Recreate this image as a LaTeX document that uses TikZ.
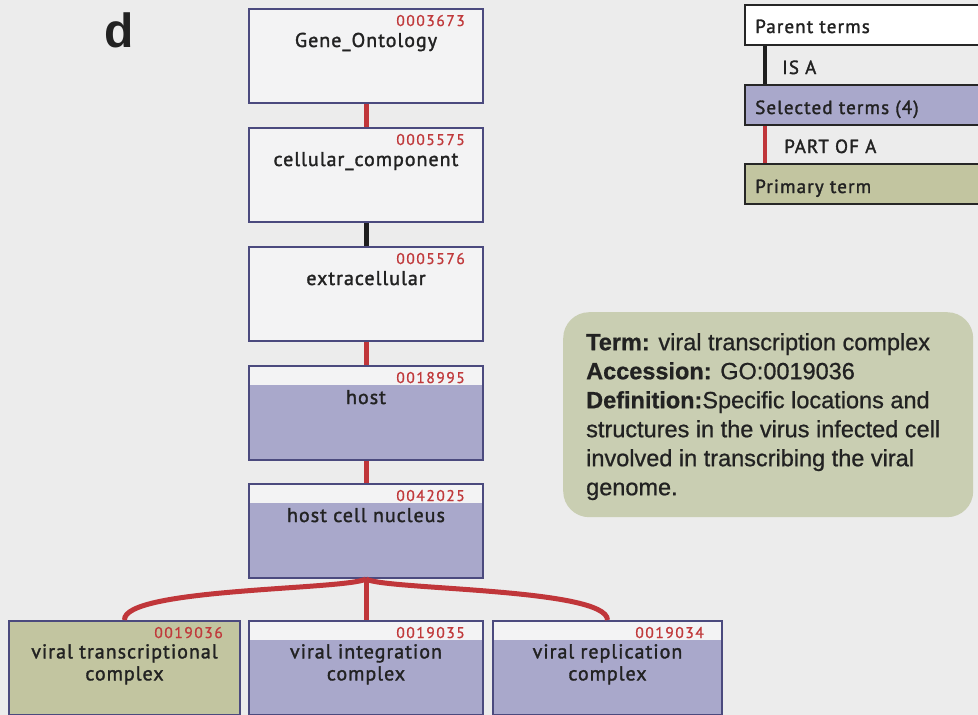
\documentclass[tikz,border=0pt]{standalone}
\usepackage{fontspec}
\setmainfont{Liberation Sans}
\newfontfamily\termfont{PT Sans}[FakeBold=1.6, LetterSpace=5]
\newfontfamily\idfont{PT Sans}[FakeBold=1.0, LetterSpace=10]
\newfontfamily\legfont{PT Sans}[FakeBold=1.6, LetterSpace=6]
\newfontfamily\infofont{Liberation Sans}[FakeBold=0.8]
\newfontfamily\infobold{Liberation Sans}[FakeBold=0.8, UprightFont=*, BoldFont=* Bold]
\begin{document}
\begin{tikzpicture}[x=1pt,y=-1pt,
  edgeline/.style={line width=5pt},
  isa/.style={edgeline, draw=isacol},
  partof/.style={edgeline, draw=partcol},
  termbox/.style={draw=boxline, line width=2pt, fill=plainfill, rectangle,
    minimum width=234pt, minimum height=94pt, anchor=north west, inner sep=0pt},
  selbox/.style={termbox, path picture={\fill[selfill]
    ([yshift=-19pt]path picture bounding box.north west) rectangle (path picture bounding box.south east);}},
  pribox/.style={termbox, fill=prifill},
  idlbl/.style={font=\idfont\fontsize{15.5}{15.5}\selectfont, text=idcol, inner sep=0pt, anchor=base east},
  namelbl/.style={font=\termfont\fontsize{20}{22}\selectfont, text=txtcol, inner sep=0pt, align=center},
  legbox/.style={draw=black!85, line width=2pt, rectangle, anchor=north west,
    minimum width=250pt, minimum height=40pt, inner sep=0pt},
  leglbl/.style={font=\legfont\fontsize{19}{19}\selectfont, text=txtcol, inner sep=0pt, anchor=base west},
]
\definecolor{bgcol}{HTML}{ECECEC}
\definecolor{plainfill}{HTML}{F3F3F4}
\definecolor{selfill}{HTML}{A9A8CB}
\definecolor{prifill}{HTML}{C2C5A0}
\definecolor{infofill}{HTML}{C9CEB2}
\definecolor{boxline}{HTML}{4B4A7E}
\definecolor{isacol}{HTML}{1E1E1E}
\definecolor{partcol}{HTML}{C0363A}
\definecolor{idcol}{HTML}{C0393B}
\definecolor{txtcol}{HTML}{222222}

\useasboundingbox[fill=bgcol] (0,0) rectangle (978,715);

% panel letter
\node[font=\bfseries\fontsize{48}{48}\selectfont, anchor=base, inner sep=0pt, text=txtcol] (panel) at (119,47) {d};

% term boxes of the ontology path
\node[termbox] (go)   at (248,8)   {};
\node[termbox] (cc)   at (248,127) {};
\node[termbox] (ec)   at (248,246) {};
\node[selbox]  (host) at (248,365) {};
\node[selbox]  (hcn)  at (248,483) {};
\node[pribox, minimum width=231pt]  (vtc)  at (8,620)   {};
\node[selbox]  (vic)  at (248,620) {};
\node[selbox, minimum width=229pt]  (vrc)  at (492,620) {};

% connectors between terms
\draw[partof] (go.south) -- (cc.north);
\draw[isa]    (cc.south) -- (ec.north);
\draw[partof] (ec.south) -- (host.north);
\draw[partof] (host.south) -- (hcn.north);
\draw[partof] (hcn.south) .. controls (345,590) and (123,588) .. (vtc.north);
\draw[partof] (hcn.south) -- (vic.north);
\draw[partof] (hcn.south) .. controls (385,590) and (607,588) .. (vrc.north);

% accession numbers
\node[idlbl] (goid)   at ([xshift=-19pt,yshift=-18pt]go.north east)   {0003673};
\node[idlbl] (ccid)   at ([xshift=-19pt,yshift=-18pt]cc.north east)   {0005575};
\node[idlbl] (ecid)   at ([xshift=-19pt,yshift=-18pt]ec.north east)   {0005576};
\node[idlbl] (hostid) at ([xshift=-19pt,yshift=-18pt]host.north east) {0018995};
\node[idlbl] (hcnid)  at ([xshift=-19pt,yshift=-18pt]hcn.north east)  {0042025};
\node[idlbl] (vtcid)  at ([xshift=-18pt,yshift=-18pt]vtc.north east)  {0019036};
\node[idlbl] (vicid)  at ([xshift=-19pt,yshift=-18pt]vic.north east)  {0019035};
\node[idlbl] (vrcid)  at ([xshift=-19pt,yshift=-18pt]vrc.north east)  {0019034};

% term names
\node[namelbl, anchor=base] (gon)   at ([yshift=-39pt]go.north)   {Gene\_Ontology};
\node[namelbl, anchor=base] (ccn)   at ([yshift=-39pt]cc.north)   {cellular\_component};
\node[namelbl, anchor=base] (ecn)   at ([yshift=-39pt]ec.north)   {extracellular};
\node[namelbl, anchor=base] (hostn) at ([yshift=-39pt]host.north) {host};
\node[namelbl, anchor=base] (hcnn)  at ([yshift=-39pt]hcn.north)  {host cell nucleus};
\node[namelbl, anchor=north] (vtcn) at ([yshift=-24pt]vtc.north)  {viral transcriptional\\complex};
\node[namelbl, anchor=north] (vicn) at ([yshift=-24pt]vic.north)  {viral integration\\complex};
\node[namelbl, anchor=north] (vrcn) at ([yshift=-24pt]vrc.north)  {viral replication\\complex};

% legend
\node[legbox, fill=white]   (lgpar) at (744,4)   {};
\node[legbox, fill=selfill] (lgsel) at (744,84)  {};
\node[legbox, fill=prifill] (lgpri) at (744,163) {};
\coordinate (lgparb) at ([xshift=21pt]lgpar.south west);
\coordinate (lgselt) at ([xshift=21pt]lgsel.north west);
\coordinate (lgselb) at ([xshift=21pt]lgsel.south west);
\coordinate (lgprit) at ([xshift=21pt]lgpri.north west);
\draw[isacol, line width=4pt] (lgparb) -- (lgselt);
\draw[partcol, line width=4pt] (lgselb) -- (lgprit);
\node[leglbl] (lgpart) at (755,33)  {Parent terms};
\node[leglbl] (lgisa)  at (782,74)  {IS A};
\node[leglbl] (lgselt2) at (755,114) {Selected terms (4)};
\node[leglbl] (lgpof)  at (784,153) {PART OF A};
\node[leglbl] (lgprit2) at (755,193) {Primary term};

% term details panel
\node[fill=infofill, rounded corners=26pt, minimum width=410pt, minimum height=205pt,
      anchor=north west, inner sep=0pt] (info) at (563,312) {};
\node[anchor=north west, inner sep=0pt, align=left, text=txtcol,
      font=\infofont\fontsize{23.5}{29}\selectfont] (infotxt) at (586,333)
  {\textbf{Term:} viral transcription complex\\
   \textbf{Accession:} GO:0019036\\
   \textbf{Definition:}Specific locations and\\
   structures in the virus infected cell\\
   involved in transcribing the viral\\
   genome.};
\end{tikzpicture}
\end{document}
